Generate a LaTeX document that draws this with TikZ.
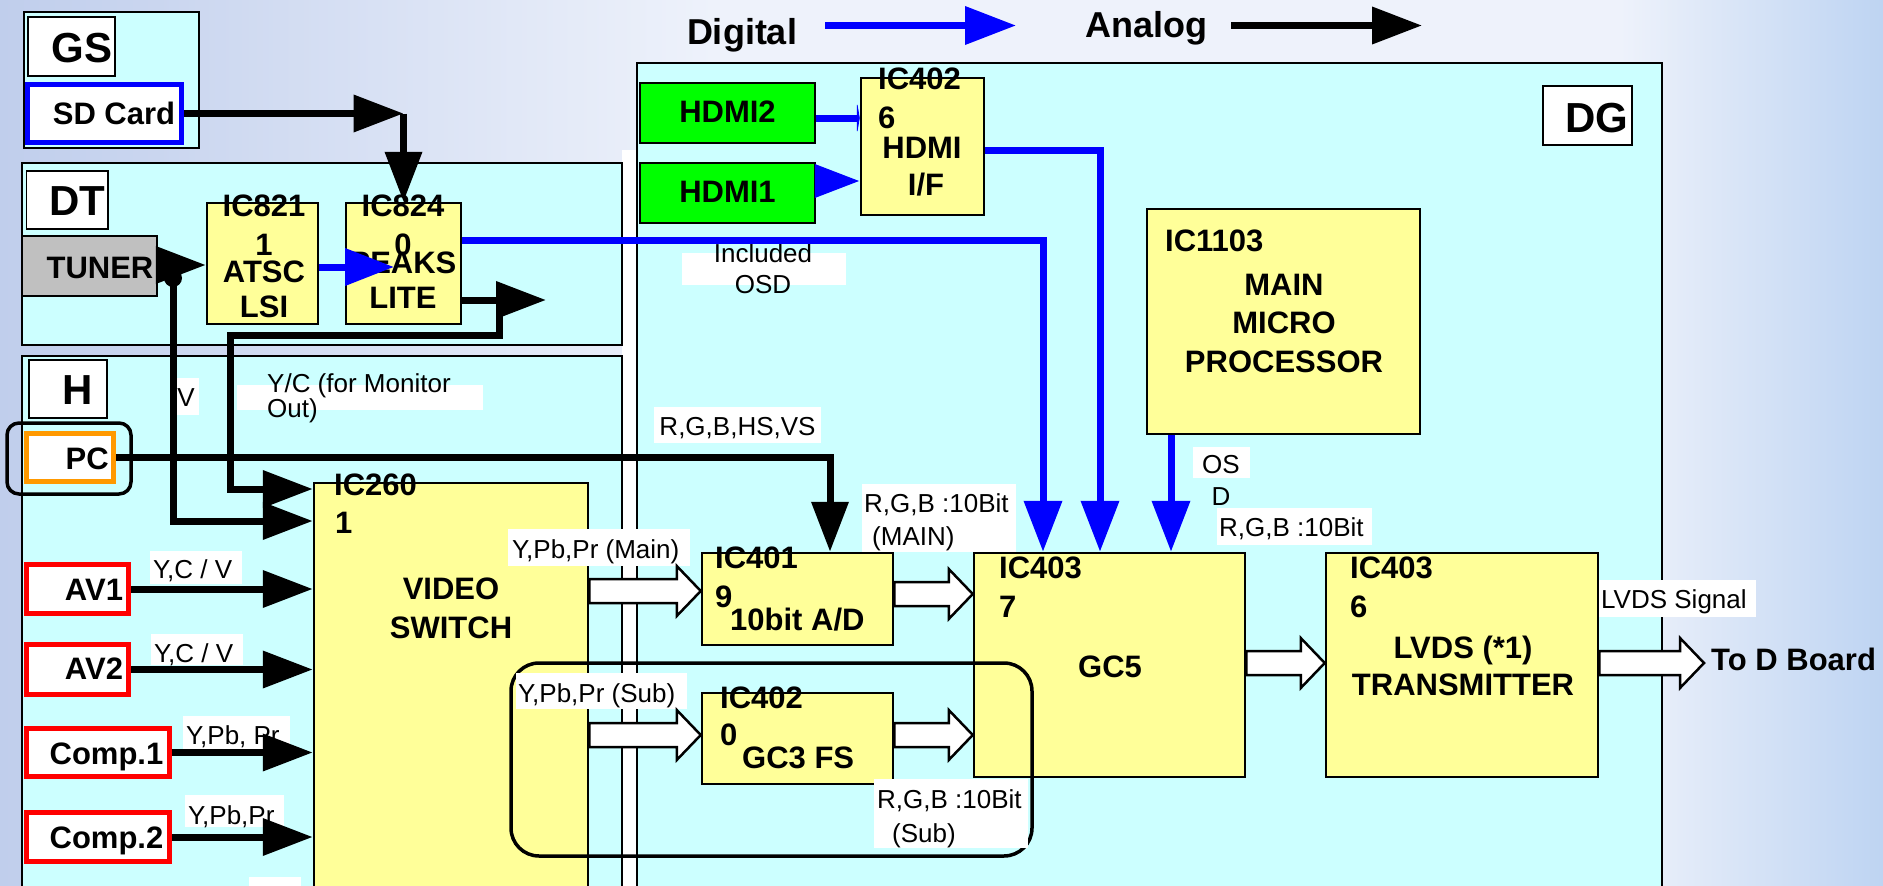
\documentclass[tikz,border=0pt]{standalone}
\usepackage{fontspec}
\setmainfont{Liberation Sans}
\usetikzlibrary{calc,arrows.meta}
\definecolor{panelc}{RGB}{204,255,255}
\definecolor{icy}{RGB}{255,255,153}
\definecolor{hg}{RGB}{0,255,0}
\definecolor{tg}{RGB}{192,192,192}
\definecolor{bb}{RGB}{0,0,255}
\definecolor{rr}{RGB}{255,0,0}
\definecolor{oo}{RGB}{255,153,0}
\definecolor{bgL}{RGB}{192,206,236}
\definecolor{bgM}{RGB}{238,242,251}
\definecolor{bgR}{RGB}{190,212,242}
\pgfdeclarehorizontalshading{bgshade}{100bp}{color(0bp)=(bgL); color(25bp)=(bgL); color(44bp)=(bgM); color(68bp)=(bgM); color(75bp)=(bgR); color(100bp)=(bgR)}
\newcommand\bx[6]{\node[#2, inner sep=0pt, minimum width={(#5-#3)*1pt}, minimum height={(#6-#4)*1pt}] (#1) at ({(#3+#5)/2},{(#4+#6)/2}) {};}
\newcommand\fatarrow[2]{\draw[fat] let \p1=#1, \p2=#2 in (\x1,\y1+12pt) -- (\x2-24pt,\y1+12pt) -- (\x2-24pt,\y1+25pt) -- (\x2,\y1) -- (\x2-24pt,\y1-25pt) -- (\x2-24pt,\y1-12pt) -- (\x1,\y1-12pt) -- cycle;}
\tikzset{
 panel/.style={draw=black, fill=panelc, line width=2pt},
 icbox/.style={draw=black, fill=icy, line width=2.5pt},
 lbl/.style={draw=black, fill=white, line width=1.5pt},
 bt/.style={font=\bfseries\fontsize{31pt}{34pt}\selectfont, inner sep=0pt},
 big/.style={font=\bfseries\fontsize{42pt}{46pt}\selectfont, inner sep=0pt},
 ttl/.style={font=\bfseries\fontsize{36pt}{40pt}\selectfont, inner sep=0pt},
 st/.style={font=\fontsize{26pt}{28pt}\selectfont, inner sep=0pt},
 wbox/.style={fill=white, draw=none},
 blk/.style={draw=black, line width=7pt, line join=miter, -{Triangle[length=50pt,width=36pt]}},
 bl/.style={draw=bb, line width=7pt, line join=miter, -{Triangle[length=51pt,width=37pt]}},
 fat/.style={draw=black, fill=white, line width=2.5pt, line join=miter},
}
\begin{document}
\begin{tikzpicture}[x=1pt,y=-1pt]
\useasboundingbox (0,0) rectangle (1883,886);
\shade[shading=bgshade] (0,0) rectangle (1883,886);
\fill[white] (622,150) rectangle (637,886);
% panels
\bx{gs}{panel}{24}{12}{199}{148}
\bx{dt}{panel}{22}{163}{622}{345}
\bx{hp}{panel}{22}{356}{622}{895}
\bx{dg}{panel}{637}{63}{1662}{895}
% GS
\bx{gsl}{lbl}{28}{17}{115}{76}
\node[big, anchor=base] (gst) at (82,62) {GS};
\bx{sd}{draw=bb, fill=white, line width=5pt}{27.5}{84.5}{181.5}{142.5}
\node[bt, anchor=base] (sdt) at (114,124) {SD Card};
% DT
\bx{dtl}{lbl}{26.5}{171}{108}{229}
\node[big, anchor=base] (dtt) at (77,215) {DT};
\bx{tuner}{draw=black, fill=tg, line width=2pt}{22}{236}{157}{296}
\node[bt, anchor=base] (tunert) at (100,278) {TUNER};
\bx{ic8211}{icbox}{207}{203}{318}{324}
\node[bt, anchor=base] (a1) at (264,216) {IC821};
\node[bt, anchor=base] (a2) at (264,255) {1};
\node[bt, anchor=base] (a3) at (264,282) {ATSC};
\node[bt, anchor=base] (a4) at (264,317) {LSI};
\bx{ic8240}{icbox}{346}{203}{461}{324}
\node[bt, anchor=base] (b1) at (403,216) {IC824};
\node[bt, anchor=base] (b2) at (403,255) {0};
\node[bt, anchor=base] (b3) at (403,273) {PEAKS};
\node[bt, anchor=base] (b4) at (403,308) {LITE};
% H
\bx{hl}{lbl}{29}{360}{107}{418}
\node[big, anchor=base] (ht) at (78,404) {H};
\bx{pcr}{draw=black, line width=3.5pt, rounded corners=12pt}{7}{423}{131}{494}
\bx{pc}{draw=oo, fill=white, line width=5pt}{26.5}{433.5}{113.5}{481.5}
\node[bt, anchor=base east] (pct) at (109,469) {PC};
\bx{av1}{draw=rr, fill=white, line width=5pt}{26.5}{564.5}{128.5}{613.5}
\node[bt, anchor=base] (av1t) at (94,600) {AV1};
\bx{av2}{draw=rr, fill=white, line width=5pt}{26.5}{644.5}{128.5}{694.5}
\node[bt, anchor=base] (av2t) at (94,679) {AV2};
\bx{cp1}{draw=rr, fill=white, line width=5pt}{26.5}{728.5}{169.5}{776.5}
\node[bt, anchor=base] (cp1t) at (106.5,764) {Comp.1};
\bx{cp2}{draw=rr, fill=white, line width=5pt}{26.5}{812.5}{169.5}{861.5}
\node[bt, anchor=base] (cp2t) at (106.5,848) {Comp.2};
\bx{vs}{icbox}{314}{483}{588}{900}
\node[bt, anchor=base west] (vs1) at (334,495) {IC260};
\node[bt, anchor=base west] (vs2) at (335,533) {1};
\node[bt, anchor=base] (vs3) at (451,599) {VIDEO};
\node[bt, anchor=base] (vs4) at (451,638) {SWITCH};
% DG
\bx{dgl}{lbl}{1543}{86}{1632}{145}
\node[big, anchor=base] (dgt) at (1597,132) {DG};
\bx{hdmi2}{draw=black, fill=hg, line width=2.5pt}{640}{83}{815}{143}
\node[bt, anchor=base] (h2t) at (727.5,122) {HDMI2};
\bx{hdmi1}{draw=black, fill=hg, line width=2.5pt}{640}{163}{815}{223}
\node[bt, anchor=base] (h1t) at (727.5,202) {HDMI1};
\bx{ic4026}{icbox}{861}{78}{984}{215}
\node[bt, anchor=base west] (c1) at (878,89) {IC402};
\node[bt, anchor=base west] (c2) at (878,128) {6};
\node[bt, anchor=base] (c3) at (922,158) {HDMI};
\node[bt, anchor=base] (c4) at (926,195) {I/F};
\bx{ic1103}{icbox}{1147}{209}{1420}{434}
\node[bt, anchor=base west] (m1) at (1165,251) {IC1103};
\node[bt, anchor=base] (m2) at (1284,295) {MAIN};
\node[bt, anchor=base] (m3) at (1284,333) {MICRO};
\node[bt, anchor=base] (m4) at (1284,372) {PROCESSOR};
\bx{ic4019}{icbox}{702}{553}{893}{645}
\node[bt, anchor=base west] (e1) at (715,568) {IC401};
\node[bt, anchor=base west] (e2) at (715,607) {9};
\node[bt, anchor=base west] (e3) at (730,630) {10bit A/D};
\bx{ic4020}{icbox}{702}{693}{893}{784}
\node[bt, anchor=base west] (f1) at (720,708) {IC402};
\node[bt, anchor=base west] (f2) at (720,745) {0};
\node[bt, anchor=base west] (f3) at (742,768) {GC3 FS};
\bx{ic4037}{icbox}{974}{553}{1245}{777}
\node[bt, anchor=base west] (g1) at (999,578) {IC403};
\node[bt, anchor=base west] (g2) at (999,617) {7};
\node[bt, anchor=base] (g3) at (1110,677) {GC5};
\bx{ic4036}{icbox}{1326}{553}{1598}{777}
\node[bt, anchor=base west] (k1) at (1350,578) {IC403};
\node[bt, anchor=base west] (k2) at (1350,617) {6};
\node[bt, anchor=base] (k3) at (1463,658) {LVDS (*1)};
\node[bt, anchor=base] (k4) at (1463,695) {TRANSMITTER};
\node[bt, anchor=base west] (tod) at (1711,670) {To D Board};
% sub group outline
\bx{subg}{draw=black, line width=3.5pt, rounded corners=28pt}{511}{663}{1032}{856}
% signal labels
\bx{vl}{wbox}{173}{378}{199}{415}
\node[st, anchor=base] (vt) at (186,406) {V};
\bx{ycl}{wbox}{237}{385}{483}{410}
\node[st, anchor=base west] (yc1) at (267,392) {Y/C (for Monitor};
\node[st, anchor=base west] (yc2) at (267,417) {Out)};
\bx{l1}{wbox}{654}{407}{821}{443}
\node[st, anchor=base] (l1t) at (737.5,435) {R,G,B,HS,VS};
\bx{l2}{wbox}{508}{529}{690}{566}
\node[st, anchor=base west] (l2t) at (512,558) {Y,Pb,Pr (Main)};
\bx{l3}{wbox}{516}{673}{687}{709}
\node[st, anchor=base west] (l3t) at (518,702) {Y,Pb,Pr (Sub)};
\bx{l4}{wbox}{862}{484}{1016}{552}
\node[st, anchor=base west] (l4a) at (864,512) {R,G,B :10Bit};
\node[st, anchor=base west] (l4b) at (872,545) {(MAIN)};
\bx{l5}{wbox}{874}{779}{1028}{848}
\node[st, anchor=base west] (l5a) at (877,808) {R,G,B :10Bit};
\node[st, anchor=base west] (l5b) at (892,842) {(Sub)};
\bx{l6}{wbox}{1193}{447}{1250}{478}
\node[st, anchor=base] (l6a) at (1221,473) {OS};
\node[st, anchor=base] (l6b) at (1221,505) {D};
\bx{l7}{wbox}{1217}{508}{1372}{545}
\node[st, anchor=base west] (l7t) at (1219,536) {R,G,B :10Bit};
\bx{l8}{wbox}{1599}{580}{1756}{617}
\node[st, anchor=base west] (l8t) at (1601,608) {LVDS Signal};
\bx{l9}{wbox}{682}{253}{846}{285}
\node[st, anchor=base] (l9a) at (763,262) {Included};
\node[st, anchor=base] (l9b) at (763,293) {OSD};
\bx{l10}{wbox}{150}{551}{242}{584}
\node[st, anchor=base west] (l10t) at (153,578) {Y,C / V};
\bx{l11}{wbox}{151}{634}{243}{665}
\node[st, anchor=base west] (l11t) at (154,662) {Y,C / V};
\bx{l12}{wbox}{183}{716}{290}{751}
\node[st, anchor=base west] (l12t) at (186,744) {Y,Pb, Pr};
\bx{l13}{wbox}{185}{795}{284}{827}
\node[st, anchor=base west] (l13t) at (188,824) {Y,Pb,Pr};
\bx{l14}{wbox}{249}{877}{301}{900}
% title legend
\node[ttl, anchor=base] (dig) at (742,44) {Digital};
\coordinate (dga) at (825,25.5);
\coordinate (dgb) at (1016,25.5);
\draw[bl] (dga) -- (dgb);
\node[ttl, anchor=base] (ana) at (1146.5,37) {Analog};
\coordinate (ana1) at (1231,25.5);
\coordinate (ana2) at (1422,25.5);
\draw[blk] (ana1) -- (ana2);
% black connectors
\draw[blk] (sd.east) -- (sd.east -| ic8240.north);
\draw[blk] (sd.east -| ic8240.north) -- (ic8240.north);
\draw[blk] (tuner.east |- 0,265) -- (ic8211.west |- 0,265);
\node[circle, fill=black, minimum size=18pt, inner sep=0pt] (dot) at (173,278) {};
\draw[blk] (dot.center) -- (dot.center |- 0,521) -- (vs.west |- 0,521);
\coordinate (ycout) at (546,300);
\coordinate (ycb) at (499,300);
\draw[blk] (ic8240.east |- ycout) -- (ycout);
\draw[blk] (ycb) -- (499,335) -- (230,335) -- (230,489) -- (vs.west |- 0,489);
\draw[blk] (pc.east) -- (830,457.5) -- (ic4019.north -| 830,0);
\draw[blk] (av1.east) -- (av1.east -| vs.west);
\draw[blk] (av2.east) -- (av2.east -| vs.west);
\draw[blk] (cp1.east) -- (cp1.east -| vs.west);
\draw[blk] (cp2.east) -- (cp2.east -| vs.west);
% blue connectors
\coordinate (pk) at (394,267);
\draw[bl, -{Triangle[length=49pt,width=36pt]}] (ic8211.east |- pk) -- (pk);
\draw[bl] (ic8240.east |- 0,240) -- (1043,240) -- (ic4037.north -| 1043,0);
\draw[bl, -{Triangle[length=45pt,width=32pt]}] (hdmi1.east |- 0,181) -- (ic4026.west |- 0,181);
\draw[bl, -{Triangle[length=3pt,width=35pt]}] (hdmi2.east |- 0,118) -- (ic4026.west |- 0,118);
\draw[bl] (ic4026.east |- 0,150) -- (1100,150) -- (ic4037.north -| 1100,0);
\draw[bl] (ic1103.south -| 1171,0) -- (ic4037.north -| 1171,0);
% wide bus arrows
\fatarrow{(vs.east |- 0,591)}{(ic4019.west |- 0,591)}
\fatarrow{(vs.east |- 0,735)}{(ic4020.west |- 0,735)}
\fatarrow{(ic4019.east |- 0,594)}{(ic4037.west |- 0,594)}
\fatarrow{(ic4020.east |- 0,735)}{(ic4037.west |- 0,735)}
\fatarrow{(ic4037.east |- 0,663)}{(ic4036.west |- 0,663)}
\coordinate (todb) at (1704,663);
\fatarrow{(ic4036.east |- 0,663)}{(todb)}
\end{tikzpicture}
\end{document}
